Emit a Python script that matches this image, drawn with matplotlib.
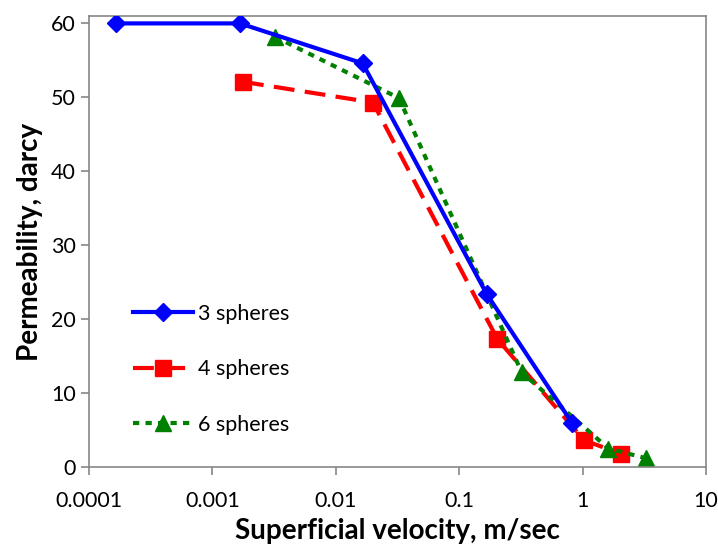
import matplotlib

matplotlib.use("Agg")
import matplotlib.pyplot as plt

plt.rcParams["font.family"] = ["Lato", "DejaVu Sans"]

# Data
vel_3 = [1.66e-4, 1.67e-3, 0.0165, 0.167, 0.826]
perm_3 = [60.0, 60.0, 54.6, 23.4, 5.9]

vel_4 = [1.77e-3, 0.020, 0.204, 1.03, 2.05]
perm_4 = [52.1, 49.3, 17.3, 3.6, 1.8]

vel_6 = [3.2e-3, 0.0325, 0.321, 1.62, 3.24]
perm_6 = [58.2, 49.9, 12.8, 2.5, 1.2]

labels = ["3 spheres", "4 spheres", "6 spheres"]

fig = plt.figure(figsize=(7.18, 5.46), dpi=100)
ax = fig.add_axes([89 / 718, 1 - 467 / 546, (706 - 89) / 718, (467 - 16) / 546])

ax.plot(vel_3, perm_3, color="#0000ff", lw=3, marker="D", markersize=9,
        label=labels[0], zorder=3)
ax.plot(vel_4, perm_4, color="#ff0000", lw=3, ls=(0, (5, 2.5)), marker="s",
        markersize=12, label=labels[1], zorder=2)
ax.plot(vel_6, perm_6, color="#008000", lw=3, ls=(0, (1.5, 1.5)), marker="^",
        markersize=12, label=labels[2], zorder=2)

ax.set_xscale("log")
ax.set_xlim(1e-4, 10)
ax.set_ylim(0, 61)
ax.set_yticks(range(0, 61, 10))
ax.set_xticks([1e-4, 1e-3, 1e-2, 1e-1, 1, 10])
ax.set_xticklabels(["0.0001", "0.001", "0.01", "0.1", "1", "10"])
ax.minorticks_off()

for side in ["left", "right", "top", "bottom"]:
    ax.spines[side].set_color("#868686")
    ax.spines[side].set_linewidth(1.2)
ax.tick_params(axis="both", colors="#868686", labelcolor="black",
               labelsize=15.5, length=6, width=1.2, direction="out")
ax.tick_params(axis="x", pad=11)

ax.set_xlabel("Superficial velocity, m/sec", fontsize=20, fontweight="bold",
              labelpad=5)
ax.set_ylabel("Permeability, darcy", fontsize=20, fontweight="bold",
              labelpad=6)

ax.legend(loc="upper left", bbox_to_anchor=(0.04, 0.405), frameon=False,
          fontsize=15.5, handlelength=2.8, labelspacing=1.65, handletextpad=0.2)

fig.savefig("out.png", dpi=100)
